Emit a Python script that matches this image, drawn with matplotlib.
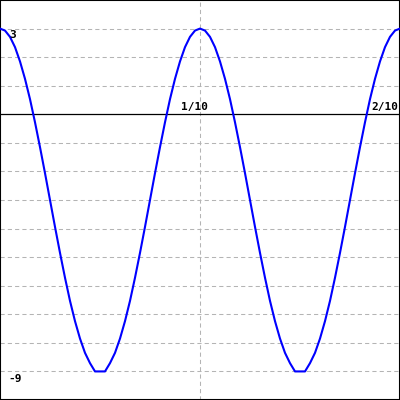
import matplotlib
matplotlib.use('Agg')
import matplotlib.pyplot as plt

# samples, every 0.0025 in x (the curve is flat at its minima)
x_vals = [0.0, 0.0025, 0.005, 0.0075, 0.01, 0.0125, 0.015, 0.0175, 0.02, 0.0225,
          0.025, 0.0275, 0.03, 0.0325, 0.035, 0.0375, 0.04, 0.0425, 0.045, 0.0475,
          0.0525, 0.055, 0.0575, 0.06, 0.0625, 0.065, 0.0675, 0.07, 0.0725, 0.075,
          0.0775, 0.08, 0.0825, 0.085, 0.0875, 0.09, 0.0925, 0.095, 0.0975, 0.1,
          0.1025, 0.105, 0.1075, 0.11, 0.1125, 0.115, 0.1175, 0.12, 0.1225,
          0.125, 0.1275, 0.13, 0.1325, 0.135, 0.1375, 0.14, 0.1425, 0.145, 0.1475,
          0.1525, 0.155, 0.1575, 0.16, 0.1625, 0.165, 0.1675, 0.17, 0.1725, 0.175,
          0.1775, 0.18, 0.1825, 0.185, 0.1875, 0.19, 0.1925, 0.195, 0.1975, 0.2]
y_vals = [3.0, 2.93, 2.71, 2.35, 1.85, 1.24, 0.53, -0.28, -1.15, -2.06,
          -3.0, -3.94, -4.85, -5.72, -6.53, -7.24, -7.85, -8.35, -8.71, -9.0,
          -9.0, -8.71, -8.35, -7.85, -7.24, -6.53, -5.72, -4.85, -3.94, -3.0,
          -2.06, -1.15, -0.28, 0.53, 1.24, 1.85, 2.35, 2.71, 2.93, 3.0,
          2.93, 2.71, 2.35, 1.85, 1.24, 0.53, -0.28, -1.15, -2.06,
          -3.0, -3.94, -4.85, -5.72, -6.53, -7.24, -7.85, -8.35, -8.71, -9.0,
          -9.0, -8.71, -8.35, -7.85, -7.24, -6.53, -5.72, -4.85, -3.94, -3.0,
          -2.06, -1.15, -0.28, 0.53, 1.24, 1.85, 2.35, 2.71, 2.93, 3.0]

y_grid = [-9, -8, -7, -6, -5, -4, -3, -2, -1, 1, 2, 3]
x_grid = [0.1]

# labels: (text, x, y, vertical alignment)
labels = [('3', 0.0045, 2.77, 'center'), ('-9', 0.004, -9.25, 'center'),
          ('1/10', 0.0975, 0.07, 'bottom'), ('2/10', 0.1925, 0.07, 'bottom')]

fig = plt.figure(figsize=(4, 4), dpi=100)
ax = fig.add_axes([0, 0, 1, 1])
ax.set_xlim(0, 0.2)
ax.set_ylim(-10, 4)

grid_style = dict(color='#b4b4b4', linewidth=0.75, linestyle=(0, (4, 3)), zorder=1)
for gy in y_grid:
    ax.axhline(gy, **grid_style)
for gx in x_grid:
    ax.axvline(gx, **grid_style)
ax.axhline(0, color='black', linewidth=0.9, zorder=2)

ax.plot(x_vals, y_vals, color='#0000ff', linewidth=1.5, zorder=3)

for txt, tx, ty, va in labels:
    ha = 'left' if tx < 0.05 else 'center'
    ax.text(tx, ty, txt, ha=ha, va=va,
            family='DejaVu Sans Mono', fontweight='bold', fontsize=8, color='black', zorder=4)

ax.set_xticks([])
ax.set_yticks([])
for sp in ax.spines.values():
    sp.set_linewidth(1.5)
    sp.set_color('black')

fig.savefig('out.png', dpi=100)
